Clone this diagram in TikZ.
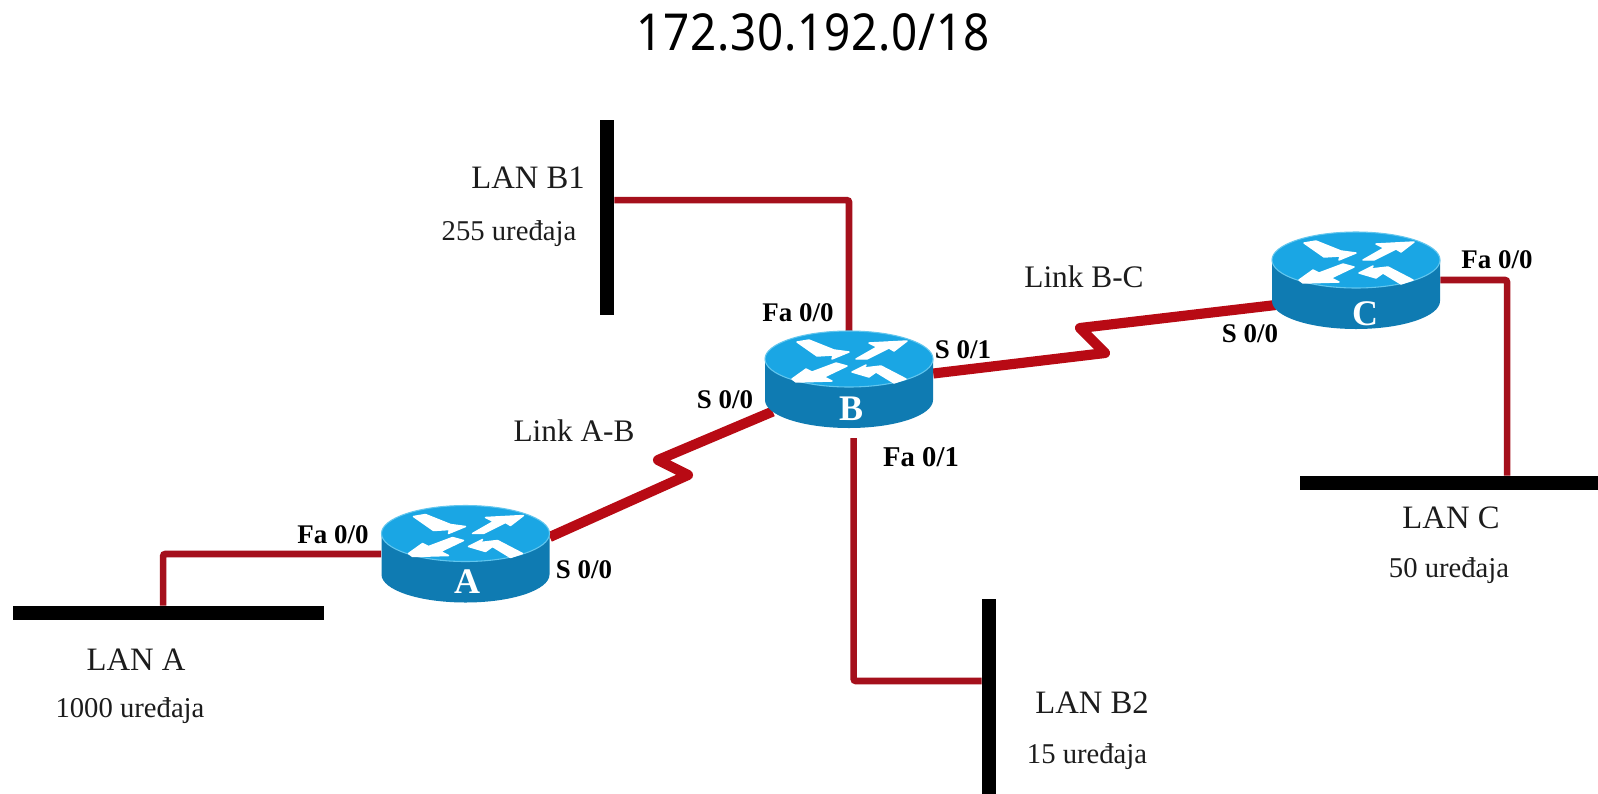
\documentclass[tikz,border=0pt]{standalone}
\usepackage{fontspec}
\setmainfont{Liberation Serif}
\newfontfamily\titlefont[FakeStretch=0.9,LetterSpace=1.5]{Noto Sans}
\definecolor{routertop}{HTML}{1AA6E4}
\definecolor{routerside}{HTML}{0F7BB2}
\definecolor{routerrim}{HTML}{62C6EE}
\definecolor{lanred}{HTML}{A5101C}
\definecolor{wanred}{HTML}{B80A14}
\definecolor{inktext}{HTML}{1C1C1C}
\tikzset{
  x=0.75pt,y=-0.75pt,
  routerbox/.style={rectangle,inner sep=0pt,minimum width=126pt,minimum height=72.5pt},
  lanh/.style={rectangle,fill=black,inner sep=0pt,minimum width=#1,minimum height=10.5pt},
  lanv/.style={rectangle,fill=black,inner sep=0pt,minimum width=10.5pt,minimum height=#1},
  lanlink/.style={draw=lanred,line width=4.9pt,rounded corners=1.5pt},
  wanlink/.style={draw=wanred,line width=7.6pt,line join=round},
  arrowpart/.style={fill=white,draw=white,line width=1.1pt,line join=round},
  lanname/.style={anchor=base,inner sep=0pt,text=inktext,font=\fontsize{24.5}{28}\selectfont},
  count/.style={anchor=base,inner sep=0pt,text=inktext,font=\fontsize{21.5}{26}\selectfont},
  linkname/.style={anchor=base,inner sep=0pt,text=inktext,font=\fontsize{23.5}{28}\selectfont},
  port/.style={anchor=base,inner sep=0pt,text=black,font=\bfseries\fontsize{20.2}{24}\selectfont},
  routerletter/.style={anchor=base,inner sep=0pt,text=white,font=\bfseries\fontsize{27}{30}\selectfont},
  titletext/.style={anchor=base,inner sep=0pt,text=black,font=\titlefont\fontsize{38.2}{44}\selectfont},
}
% router artwork; #1 = centre of the top ellipse
\newcommand{\routericon}[1]{%
  \begin{scope}[shift={#1}]
    \fill[routerside] (-84,0) -- (-84,41) arc[start angle=180,end angle=0,x radius=84,y radius=28] -- (84,0) -- cycle;
    \fill[routertop,draw=routerrim,line width=0.8pt] (0,0) ellipse[x radius=84,y radius=28];
    \path[arrowpart] (-52,-17) -- (-40,-19) -- (-15,-9) -- (0,-7) -- (-17,0) -- (-16,-4) -- (-32,-3) -- cycle;
    \path[arrowpart] (7,0) -- (28,-12) -- (20,-16) -- (58,-18) -- (45,-8) -- (40,-11) -- (18,0) -- cycle;
    \path[arrowpart] (-57,20) -- (-43,10) -- (-37,13) -- (-13,4) -- (-2,7) -- (-25,18) -- (-17,22) -- (-53,23) -- cycle;
    \path[arrowpart] (3,13) -- (17,6) -- (15,9) -- (32,7) -- (57,20) -- (45,24) -- (27,13) -- (20,18) -- cycle;
  \end{scope}}
\begin{document}
\begin{tikzpicture}
\useasboundingbox (0,0) rectangle (1598,793);
\fill[white] (0,0) rectangle (1598,793);
% router outlines (used as connector ends)
\node[routerbox] (rA) at (465.5,554) {};
\node[routerbox] (rB) at (849,379.5) {};
\node[routerbox] (rC) at (1356,280) {};
% LAN segments
\node[lanh=233.25pt] (lanA) at (168.5,613) {};
\node[lanv=146.25pt] (lanB1) at (607,217.5) {};
\node[lanv=146.25pt] (lanB2) at (989,696) {};
\node[lanh=223.5pt] (lanC) at (1449,483) {};
% serial corner points
\coordinate (zabhi) at (688,475);
\coordinate (zablo) at (658,460);
\coordinate (zbchi) at (1105,353);
\coordinate (zbclo) at (1080,328);
% connectors
\draw[lanlink] (rA.west) -| ([xshift=-4pt]lanA.north);
\draw[lanlink] (rB.north) |- ([yshift=13pt]lanB1.east);
\draw[lanlink] ([xshift=3.5pt,yshift=-7.5pt]rB.south) |- ([yshift=11.25pt]lanB2.west);
\draw[lanlink] (rC.east) -| ([xshift=43.5pt]lanC.north);
\draw[wanlink] ([yshift=12.75pt]rA.east) -- (zabhi) -- (zablo) -- ([xshift=6pt,yshift=-24pt]rB.west);
\draw[wanlink] ([yshift=4.5pt]rB.east) -- (zbchi) -- (zbclo) -- ([xshift=3pt,yshift=-18.75pt]rC.west);
% routers on top of the link ends
\routericon{(465.5,533.5)}
\routericon{(849,359)}
\routericon{(1356,260)}
\node[routerletter] (lA) at (467,593) {A};
\node[routerletter] (lB) at (851,420) {B};
\node[routerletter] (lC) at (1365,325) {C};
% texts
\node[titletext] (title) at (813,50) {172.30.192.0/18};
\node[lanname] (tlanB1) at (528,188) {LAN B1};
\node[count] (clanB1) at (509,240) {255 uređaja};
\node[port] (pB0) at (798,321) {Fa 0/0};
\node[port] (pBs1) at (963,358) {S 0/1};
\node[port] (pBs0) at (725,408) {S 0/0};
\node[port,font=\bfseries\fontsize{21.5}{24}\selectfont] (pB1) at (921,466) {Fa 0/1};
\node[linkname] (tab) at (574,441) {Link A-B};
\node[linkname] (tbc) at (1084,287) {Link B-C};
\node[port] (pCs0) at (1250,342) {S 0/0};
\node[port] (pC0) at (1497,268) {Fa 0/0};
\node[lanname] (tlanC) at (1451,528) {LAN C};
\node[count] (clanC) at (1449,577) {50 uređaja};
\node[port] (pA0) at (333,543) {Fa 0/0};
\node[lanname] (tlanA) at (136,670) {LAN A};
\node[count] (clanA) at (130,717) {1000 uređaja};
\node[port] (pAs0) at (584,578) {S 0/0};
\node[lanname] (tlanB2) at (1092,713) {LAN B2};
\node[count] (clanB2) at (1087,763) {15 uređaja};
\end{tikzpicture}
\end{document}
